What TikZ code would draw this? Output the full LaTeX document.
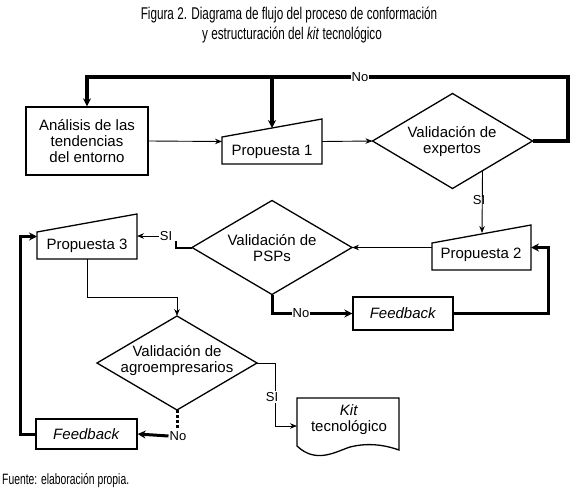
\documentclass[tikz,border=0pt]{standalone}
\usepackage{fontspec}
\setmainfont{Liberation Sans}
\newfontfamily\narrowfont{Liberation Sans}[FakeStretch=0.69]
\usetikzlibrary{shapes.geometric,arrows.meta,calc}
\begin{document}
\begin{tikzpicture}[x=1pt,y=-1pt,
 txt/.style={font=\fontsize{15}{16}\selectfont, align=center, inner sep=0},
 boxshape/.style={draw, line width=1.3pt, inner sep=0},
 blank/.style={inner sep=0, outer sep=0},
 diam/.style={diamond, draw, line width=1.3pt, inner sep=0, outer sep=0, minimum width=160pt, minimum height=94pt},
 shapeline/.style={line width=1.3pt, line join=miter},
 thinarr/.style={line width=0.9pt, -{Stealth[length=7pt,width=5.5pt]}},
 thickarr/.style={line width=3pt, -{Stealth[length=8pt,width=8pt]}},
 thickline/.style={line width=3pt},
 lbl/.style={font=\fontsize{13}{14}\selectfont, fill=white, inner sep=1pt}
]
\useasboundingbox (0,0) rectangle (577,492);

% title and footer
\node[inner sep=0] (t1) at (289,15) {\narrowfont\fontsize{17}{19}\selectfont Figura 2. Diagrama de flujo del proceso de conformación};
\node[inner sep=0] (t2) at (292,35) {\narrowfont\fontsize{17}{19}\selectfont y estructuración del \textit{kit} tecnológico};
\node[inner sep=0, anchor=west] (foot) at (2,481) {\narrowfont\fontsize{15}{16}\selectfont Fuente: elaboración propia.};

% Analysis box
\node[boxshape, txt, minimum width=122pt, minimum height=68pt] (an) at (87,141) {Análisis de las\\tendencias\\del entorno};

% Propuesta 1
\node[blank, minimum width=100pt, minimum height=45pt] (p1) at (272,141.5) {};
\draw[shapeline] (p1.south west) -- (p1.south east) -- (p1.north east) -- ($(p1.north west)+(0,18)$) -- cycle;
\node[txt] (p1t) at (272,152) {Propuesta 1};

% Diamond expertos
\node[diam, minimum height=95pt] (d1) at (452.5,141) {};
\node[txt] (d1t) at (452,142) {Validación de\\expertos};

% Propuesta 2
\node[blank, minimum width=99pt, minimum height=45pt] (p2) at (481.5,247.5) {};
\draw[shapeline] (p2.south west) -- (p2.south east) -- (p2.north east) -- ($(p2.north west)+(0,18)$) -- cycle;
\node[txt] (p2t) at (481,255) {Propuesta 2};

% Diamond PSPs
\node[diam] (d2) at (272,247.5) {};
\node[txt] (d2t) at (272,248) {Validación de\\PSPs};

% Propuesta 3
\node[blank, minimum width=100pt, minimum height=45pt] (p3) at (87,236.5) {};
\draw[shapeline] (p3.south west) -- (p3.south east) -- (p3.north east) -- ($(p3.north west)+(0,18)$) -- cycle;
\node[txt] (p3t) at (87,246) {Propuesta 3};

% Feedback 1
\node[boxshape, txt, minimum width=100pt, minimum height=33pt] (fb1) at (403,313.5) {\textit{Feedback}};

% Diamond agro
\node[diam] (d3) at (177,363) {};
\node[txt] (d3t) at (177,361) {Validación de\\agroempresarios};

% Feedback 2
\node[boxshape, txt, minimum width=101pt, minimum height=30pt] (fb2) at (86.5,434) {\textit{Feedback}};

% Kit (document)
\node[blank, minimum width=102pt, minimum height=56pt] (kit) at (348,426) {};
\draw[shapeline] (kit.north west) -- (kit.north east) -- ($(kit.north east)+(0,52)$)
  .. controls (382,444) and (366,443) .. (350,447)
  .. controls (335,452) and (316,464) .. ($(kit.north west)+(0,48)$) -- cycle;
\node[txt] (kitt) at (349,420) {\textit{Kit}\\tecnológico};

% connectors
\draw[thinarr] (an.east) -- (p1.west);
\draw[thinarr] (p1.east) -- (d1.west);

\coordinate (nl) at (568,77);
\coordinate (br1) at (272,77);
\coordinate (p1top) at (272,128);
\draw[thickarr, line width=3.2pt] (d1.east) -| (nl) -| (an.north);
\draw[thickarr, line width=3.2pt] (br1) -- (p1top);
\node[lbl] (no1) at (360,77) {No};

\coordinate (d1s) at ($(d1.east)!0.625!(d1.south)$);
\coordinate (p2top) at (482,233);
\draw[thinarr] (d1s) -- (p2top);
\node[font=\fontsize{13}{14}\selectfont, inner sep=0] (si1) at (479,200) {SI};

\draw[thinarr] (p2.west) -- (d2.east);

\coordinate (s2a) at (176,241);
\draw[line width=2pt] (d2.west) -| (s2a);
\node[lbl] (si2) at (166,236) {SI};
\draw[thinarr] (si2.west) -- (si2.west -| p3.east);

\draw[thickarr] (d2.south) |- node[lbl, pos=0.68] (no2) {No} (fb1.west);

\coordinate (c3) at (548,313.5);
\draw[thickarr] (fb1.east) -- (c3) |- (p2.east);

\coordinate (c5) at (177,297);
\draw[thinarr] (p3.south) |- (c5) -- (d3.north);

\coordinate (c6) at (275,363);
\draw[thinarr] (d3.east) -- (c6) |- (kit.west);
\node[lbl] (si3) at (272,397) {SI};

\coordinate (c7) at (177,428);
\draw[line width=3pt, dash pattern=on 3pt off 2pt] (d3.south) -- (c7);
\node[lbl] (no3) at (178,436) {No};
\draw[thickarr] (no3.west) -- (fb2.east);

\coordinate (c8) at (20,434);
\draw[thickarr] (fb2.west) -- (c8) |- (p3.west);
\end{tikzpicture}
\end{document}
